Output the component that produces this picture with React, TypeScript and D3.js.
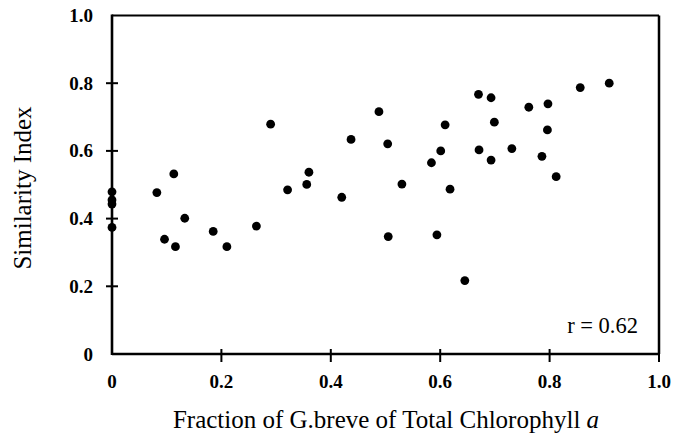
import * as d3 from "d3";

// fraction of G.breve (x) and similarity index (y)
const FRACTION = [
  0, 0, 0, 0, 0.082, 0.096, 0.113, 0.116, 0.133, 0.185, 0.21, 0.264, 0.29,
  0.321, 0.356, 0.36, 0.42, 0.437, 0.488, 0.504, 0.505, 0.53, 0.584, 0.594,
  0.601, 0.609, 0.618, 0.645, 0.67, 0.671, 0.693, 0.693, 0.699, 0.731, 0.762,
  0.786, 0.797, 0.796, 0.812, 0.856, 0.909,
];
const SIMILARITY = [
  0.479, 0.455, 0.443, 0.374, 0.477, 0.339, 0.532, 0.317, 0.401, 0.362, 0.317,
  0.378, 0.679, 0.485, 0.501, 0.537, 0.463, 0.634, 0.716, 0.621, 0.347, 0.502,
  0.565, 0.352, 0.6, 0.677, 0.487, 0.217, 0.767, 0.603, 0.757, 0.573, 0.685,
  0.607, 0.729, 0.584, 0.739, 0.662, 0.524, 0.787, 0.8,
];
const TICKS = [0, 0.2, 0.4, 0.6, 0.8, 1.0];

const W = 682;
const H = 434;
const FONT = "'Liberation Serif', 'Times New Roman', serif";

const fmt = (v: number) => (v === 0 ? "0" : d3.format(".1f")(v));

export default function App() {
  const x = d3.scaleLinear().domain([0, 1]).range([112, 659]);
  const y = d3.scaleLinear().domain([0, 1]).range([354, 15.5]);
  const points = FRACTION.map((f, i) => ({ f, s: SIMILARITY[i] }));

  return (
    <svg
      width={W}
      height={H}
      style={{ position: "absolute", left: 0, top: 0, background: "#fff", fontFamily: FONT }}
    >
      {/* frame */}
      <line x1={x(0)} x2={x(1)} y1={y(1)} y2={y(1)} stroke="#000" strokeWidth={2.2} />
      <line x1={x(1)} x2={x(1)} y1={y(1)} y2={y(0)} stroke="#000" strokeWidth={2.5} />
      <line x1={x(0)} x2={x(1) + 1} y1={y(0)} y2={y(0)} stroke="#000" strokeWidth={2.6} />
      <line x1={x(0)} x2={x(0)} y1={y(1) - 1} y2={y(0) + 1} stroke="#000" strokeWidth={2.6} />

      {/* y ticks */}
      {TICKS.map((t) => (
        <g key={`y${t}`}>
          {t > 0 && t < 1 && (
            <line x1={x(0) - 6} x2={x(0) + 6} y1={y(t)} y2={y(t)} stroke="#000" strokeWidth={2} />
          )}
          <text x={93} y={y(t) + 6.5} textAnchor="end" fontSize={19} fontWeight="bold">
            {fmt(t)}
          </text>
        </g>
      ))}

      {/* x ticks */}
      {TICKS.map((t) => (
        <g key={`x${t}`}>
          {t > 0 && (
            <line x1={x(t)} x2={x(t)} y1={y(0) - 5} y2={y(0) + 8} stroke="#000" strokeWidth={2} />
          )}
          <text x={x(t)} y={388} textAnchor="middle" fontSize={19} fontWeight="bold">
            {fmt(t)}
          </text>
        </g>
      ))}

      {/* points */}
      {points.map((p, i) => (
        <circle key={i} cx={x(p.f)} cy={y(p.s)} r={4.4} fill="#000" />
      ))}

      <text x={638} y={333} textAnchor="end" fontSize={22.5}>
        r = 0.62
      </text>

      <text x={386} y={428} textAnchor="middle" fontSize={25}>
        Fraction of G.breve of Total Chlorophyll <tspan fontStyle="italic">a</tspan>
      </text>
      <text
        transform={`translate(31, 188) rotate(-90)`}
        textAnchor="middle"
        fontSize={25}
      >
        Similarity Index
      </text>
    </svg>
  );
}
